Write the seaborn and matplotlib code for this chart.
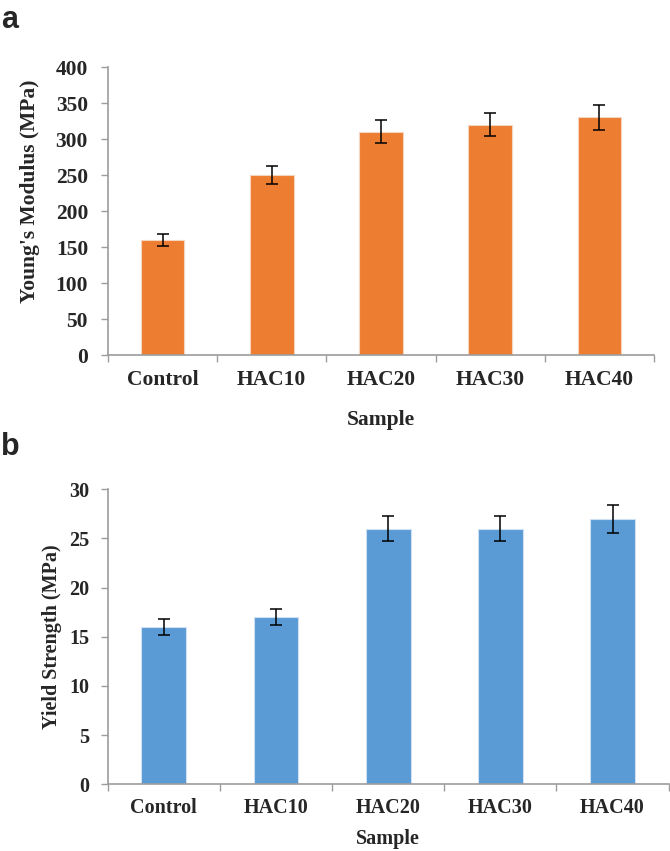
import numpy as np
import matplotlib
matplotlib.use("Agg")
import matplotlib.pyplot as plt
import seaborn as sns

samples = ["Control", "HAC10", "HAC20", "HAC30", "HAC40"]
youngs_modulus = [160, 250, 310, 320, 330]
youngs_err = [8, 13, 16, 16, 17]
yield_strength = [16, 17, 26, 26, 27]
yield_err = [0.8, 0.85, 1.3, 1.3, 1.4]

sns.set_style("white")
plt.rcParams["font.family"] = ["Liberation Serif", "DejaVu Serif"]

axis_gray = "#9c9c9c"
orange = "#ED7D31"
blue = "#5B9BD5"

fig = plt.figure(figsize=(6.7, 8.51), dpi=100)
ax_a = fig.add_axes([0.1612, 0.5828, 0.8149, 0.3384])
ax_b = fig.add_axes([0.1607, 0.0784, 0.8373, 0.3466])


def draw_panel(ax, values, errs, color, ymax, ystep, ylabel, fs, tick_pad_y, tick_pad_x,
               ylabel_xy, xlabel_y):
    sns.barplot(x=samples, y=values, color=color, width=0.4, errorbar=None,
                edgecolor="#f5d5c0" if color == orange else "#cfe0f2", linewidth=0.8,
                saturation=1, ax=ax)
    ax.errorbar(np.arange(len(samples)), values, yerr=errs, fmt="none",
                ecolor="black", elinewidth=1.1, capsize=4.5, capthick=1.1)
    ax.set_xlim(-0.5, len(samples) - 0.5)
    ax.set_ylim(0, ymax)
    ax.set_yticks(np.arange(0, ymax + ystep / 2, ystep))
    ax.set_xticks(np.arange(len(samples)))
    ax.set_xticklabels(samples)
    ax.set_xticks(np.arange(-0.5, len(samples)), minor=True)
    ax.tick_params(axis="x", which="major", length=0, pad=tick_pad_x,
                   labelsize=fs)
    ax.tick_params(axis="x", which="minor", length=5, width=1,
                   color=axis_gray, direction="out", bottom=True)
    ax.tick_params(axis="y", which="major", length=5, width=1, color=axis_gray,
                   direction="out", left=True, pad=tick_pad_y, labelsize=fs)
    for lbl in ax.get_xticklabels() + ax.get_yticklabels():
        lbl.set_fontweight("bold")
    for side in ["top", "right"]:
        ax.spines[side].set_visible(False)
    for side in ["left", "bottom"]:
        ax.spines[side].set_color(axis_gray)
        ax.spines[side].set_linewidth(1.2)
    ax.set_ylabel(ylabel, fontsize=fs, fontweight="bold")
    ax.yaxis.set_label_coords(*ylabel_xy)
    ax.set_xlabel("Sample", fontsize=fs, fontweight="bold", va="top")
    ax.xaxis.set_label_coords(0.5, xlabel_y)


draw_panel(ax_a, youngs_modulus, youngs_err, orange, 400, 50,
           "Young's Modulus (MPa)", 15.5, 9.4, 11, (-0.1245, 0.57), -0.19)
draw_panel(ax_b, yield_strength, yield_err, blue, 30, 5,
           "Yield Strength (MPa)", 14.5, 8, 10, (-0.082, 0.5), -0.153)

fig.text(0.001, 0.967, "a", fontsize=22, fontweight="bold",
         family=["Liberation Sans", "DejaVu Sans"], va="baseline", ha="left")
fig.text(0.001, 0.4653, "b", fontsize=22, fontweight="bold",
         family=["Liberation Sans", "DejaVu Sans"], va="baseline", ha="left")

fig.savefig("out.png", dpi=100)
